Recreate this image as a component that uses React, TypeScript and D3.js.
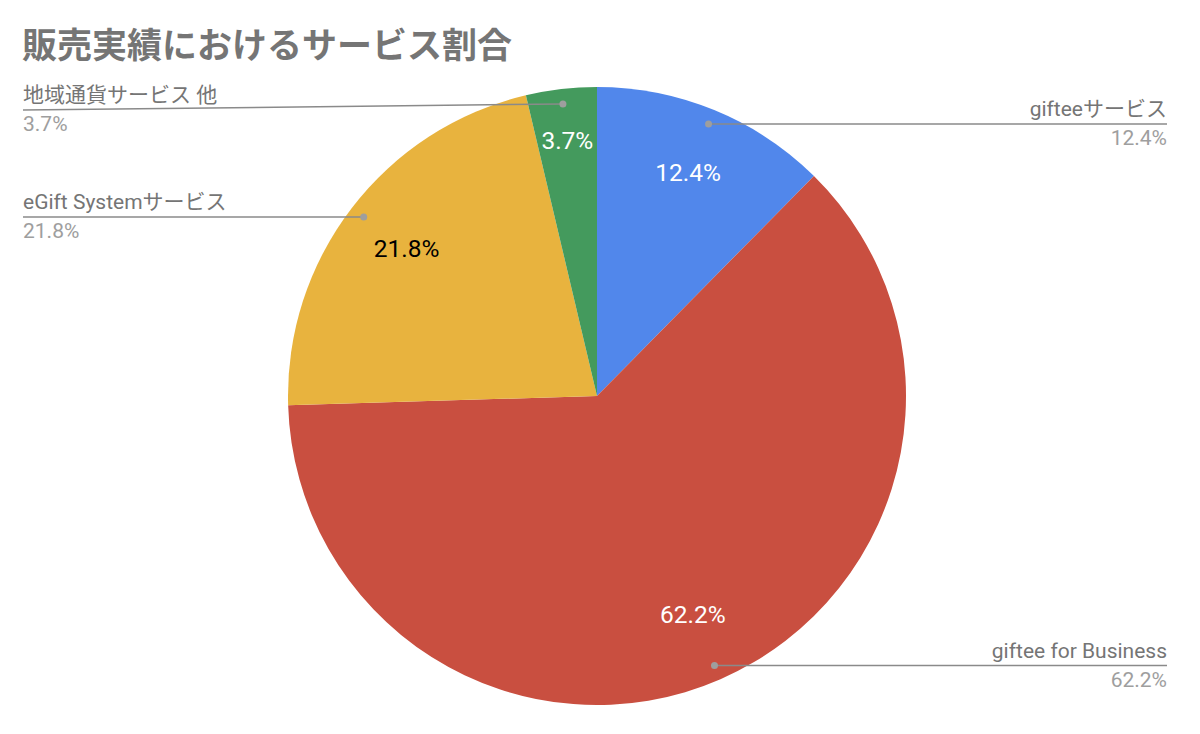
import React from "react";
import * as d3 from "d3";

const categories = ["gifteeサービス", "giftee for Business", "eGift Systemサービス", "地域通貨サービス 他"];
const values = [12.4, 62.2, 21.8, 3.7];
const colors = ["#5187EB", "#C94F40", "#E8B33E", "#449A5D"];
const insideTextColors = ["#ffffff", "#ffffff", "#000000", "#ffffff"];
const title = "販売実績におけるサービス割合";

const W = 1200;
const H = 734;
const cx = 597;
const cy = 396;
const R = 309;
const FONT = "Roboto, 'Noto Sans CJK JP', sans-serif";

export default function App() {
  const pie = d3.pie<number>().sort(null).value((d) => d);
  const arcs = pie(values);
  const arcGen = d3.arc<d3.PieArcDatum<number>>().innerRadius(0).outerRadius(R);
  const fmt = (v: number) => `${v.toFixed(1)}%`;
  const leftX = 23;
  const rightX = 1167;

  return (
    <svg width={W} height={H} style={{ position: "absolute", left: 0, top: 0, background: "#fff" }} fontFamily={FONT}>
      <text x={22} y={58} fontSize={35} fontWeight="bold" fill="#757575">{title}</text>
      <g transform={`translate(${cx},${cy})`}>
        {arcs.map((a, i) => (
          <path key={i} d={arcGen(a) || ""} fill={colors[i]} />
        ))}
        {arcs.map((a, i) => {
          const mid = (a.startAngle + a.endAngle) / 2;
          const span = a.endAngle - a.startAngle;
          const lr = span < 0.4 ? 256 : 240;
          const x = Math.sin(mid) * lr;
          const y = -Math.cos(mid) * lr;
          return (
            <text key={i} x={x} y={y} dy="0.3em" textAnchor="middle" fontSize={24.5} fill={insideTextColors[i]}>
              {fmt(values[i])}
            </text>
          );
        })}
      </g>
      {arcs.map((a, i) => {
        const mid = (a.startAngle + a.endAngle) / 2;
        const dr = 294;
        const px = cx + Math.sin(mid) * dr;
        const py = cy - Math.cos(mid) * dr;
        const right = Math.sin(mid) > 0;
        const lx = right ? rightX : leftX;
        const small = a.endAngle - a.startAngle < 0.4;
        const ly = small ? py + 6 : py;
        const anchor = right ? "end" : "start";
        return (
          <g key={i}>
            <path d={`M${px},${py}L${lx},${ly}`} stroke="#8a8a8a" strokeWidth={1.5} fill="none" />
            <circle cx={px} cy={py} r={3.5} fill="#9e9e9e" />
            <text x={lx} y={ly - 8} textAnchor={anchor} fontSize={21} fill="#757575">{categories[i]}</text>
            <text x={lx} y={ly + 21} textAnchor={anchor} fontSize={21} fill="#9e9e9e">{fmt(values[i])}</text>
          </g>
        );
      })}
    </svg>
  );
}
